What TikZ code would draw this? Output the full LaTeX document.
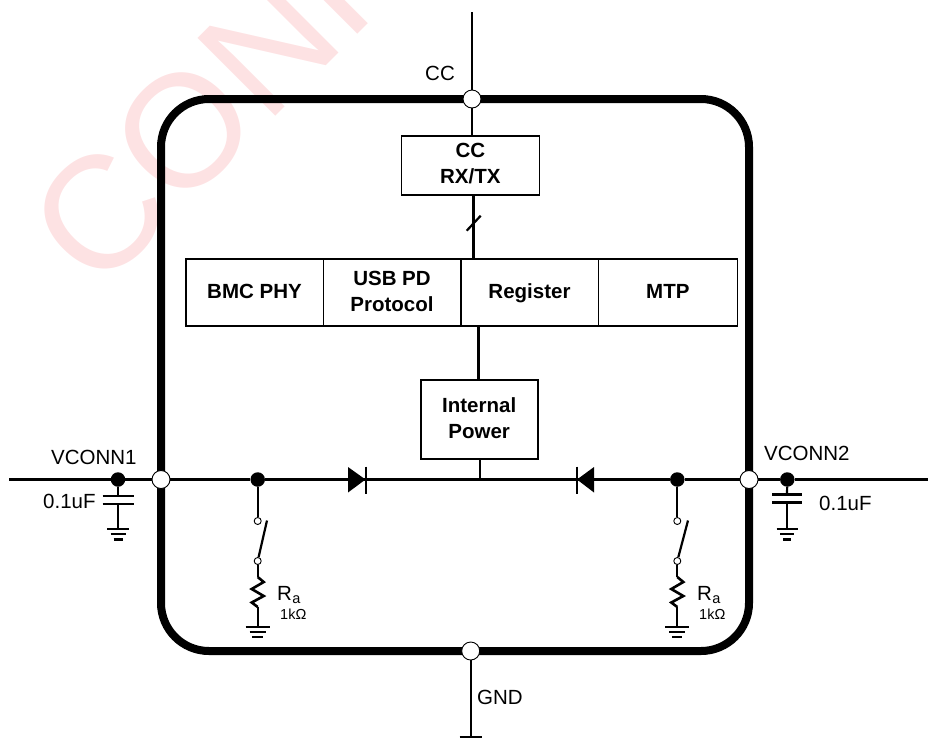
\documentclass[tikz,border=0pt]{standalone}
\usepackage{fontspec}
\setmainfont{Liberation Sans}
\usetikzlibrary{calc}
\definecolor{wm}{RGB}{253,226,227}
\tikzset{
 x=1pt,y=-1pt,
 wire/.style={line width=2.2pt},
 thickwire/.style={line width=3pt},
 chip/.style={line width=8pt},
 port/.style={circle,draw=black,fill=white,line width=0.9pt,minimum size=18pt,inner sep=0pt},
 junc/.style={circle,fill=black,minimum size=14.5pt,inner sep=0pt},
 sw/.style={circle,draw=black,fill=white,line width=0.9pt,minimum size=7pt,inner sep=0pt},
 blockbox/.style={draw=black,fill=white,line width=1.6pt,inner sep=0pt,align=center,font=\fontsize{20.5}{26}\selectfont\bfseries},
 lbl/.style={font=\fontsize{20.5}{24}\selectfont,inner sep=0pt,anchor=base west},
 small/.style={font=\fontsize{14.5}{16}\selectfont,inner sep=0pt,anchor=base west},
}
\newcommand{\bl}[1]{\rule[-7pt]{0pt}{25pt}#1}
% ground symbol: #1 = top centre, #2,#3,#4 half widths
\newcommand{\gndsym}[4]{%
 \draw[wire] ($(#1)+(-#2,0)$) -- ($(#1)+(#2,0)$);
 \draw[wire] ($(#1)+(-#3,5.2)$) -- ($(#1)+(#3,5.2)$);
 \draw[wire] ($(#1)+(-#4,10.4)$) -- ($(#1)+(#4,10.4)$);}
% zigzag resistor: #1 = top end
\newcommand{\zigres}[1]{%
 \draw[wire,line width=2.6pt,line join=miter] (#1) -- ++(6,5) -- ++(-12,7) -- ++(12,7) -- ++(-12,6.5) -- ++(6,4.5);}
\begin{document}
\begin{tikzpicture}
\useasboundingbox (0,0) rectangle (928,740);
% watermark
\node[rotate=45,anchor=base west,inner sep=0pt,text=wm,font=\fontsize{160}{160}\selectfont] (wmark) at (97,295) {CONF};
% chip outline
\draw[chip] (209,99) -- (701,99) arc[start angle=-90,end angle=0,radius=48] -- (749,603) arc[start angle=0,end angle=90,radius=48] -- (209,651) arc[start angle=90,end angle=180,radius=48] -- (161,147) arc[start angle=180,end angle=270,radius=48] -- cycle;
% free ends
\coordinate (ccT) at (472,12);
\coordinate (gB) at (470.7,736.7);
\coordinate (L) at (9,479.5);
\coordinate (R) at (928,479.5);
\coordinate (bus) at (480,479.5);
\coordinate (d1) at (348,479.5);
\coordinate (d2) at (594,479.5);
% ports
\node[port] (pcc) at (472,99) {};
\node[port] (pgnd) at (470.7,651) {};
\node[port] (pv1) at (161,479.5) {};
\node[port] (pv2) at (749,479.5) {};
% blocks
\node[blockbox,minimum width=138pt,minimum height=59.3pt] (ccb) at (470.3,165.4) {\bl{CC}\\\bl{RX/TX}};
\node[blockbox,minimum width=137.6pt,minimum height=67pt] (bmc) at (254.5,292.6) {\bl{BMC PHY}};
\node[blockbox,minimum width=137.2pt,minimum height=67pt] (usb) at (392,292.6) {\bl{USB PD}\\\bl{Protocol}};
\node[blockbox,minimum width=137.6pt,minimum height=67pt] (reg) at (529.5,292.6) {\bl{Register}};
\node[blockbox,minimum width=139pt,minimum height=67pt] (mtp) at (667.8,292.6) {\bl{MTP}};
\node[blockbox,minimum width=117pt,minimum height=79pt] (ipw) at (479.2,419.5) {\bl{Internal}\\\bl{Power}};
% junctions
\node[junc] (j1) at (118,479.5) {};
\node[junc] (j2) at (257.7,479.5) {};
\node[junc] (j3) at (677.3,479.5) {};
\node[junc] (j4) at (787.3,479.5) {};
% switches
\node[sw] (s1a) at (257.7,521) {};
\node[sw] (s1b) at (257.7,561) {};
\node[sw] (s2a) at (677.3,521) {};
\node[sw] (s2b) at (677.3,561) {};
\coordinate (s1e) at (267,520.5);
\coordinate (s2e) at (688,520.5);
\coordinate (r1t) at (257.7,577);
\coordinate (r1b) at (257.7,607);
\coordinate (r2t) at (677.3,577);
\coordinate (r2b) at (677.3,607);
\coordinate (g1) at (257.7,626.7);
\coordinate (g2) at (677.3,626.7);
\coordinate (c1a) at (118,495.7);
\coordinate (c1b) at (118,504);
\coordinate (c1g) at (118,529);
\coordinate (c2a) at (787,494.5);
\coordinate (c2b) at (787,502.5);
\coordinate (c2g) at (787,529);
% connectors
\draw[wire] (ccT) -- (pcc);
\draw[wire] (pcc) -- (pcc |- ccb.north);
\draw[wire] (pgnd) -- (gB);
\draw[wire] ($(gB)+(-11,0)$) -- ($(gB)+(11,0)$);
\draw[wire] (L) -- (j1) -- (pv1) -- (j2) -- (j3) -- (pv2) -- (j4) -- (R);
\draw[thickwire] (473.3,195) coordinate (w1) -- (w1 |- reg.north);
\draw[wire] (466.7,230.7) coordinate (sl) -- (480.7,215.7);
\draw[thickwire] (478,326) coordinate (w2) -- (w2 |- ipw.north);
\draw[wire] (ipw.south -| bus) -- (bus);
% diodes
\fill (d1) ++(0,-12.5) -- ++(17.5,12.5) -- ++(-17.5,13) -- cycle;
\draw[line width=1.5pt] ($(d1)+(18,-13)$) -- ($(d1)+(18,14)$);
\fill (d2) ++(0,-12.5) -- ++(-17,12.5) -- ++(17,13) -- cycle;
\draw[line width=1.5pt] ($(d2)+(-17,-13)$) -- ($(d2)+(-17,14)$);
% branch 1
\draw[wire] (j2) -- (s1a);
\draw[wire] (s1b) -- (s1e);
\draw[wire] (s1b) -- (r1t);
\zigres{r1t}
\draw[wire] (r1b) -- (g1);
\gndsym{g1}{12}{8}{5.5}
% branch 2
\draw[wire] (j3) -- (s2a);
\draw[wire] (s2b) -- (s2e);
\draw[wire] (s2b) -- (r2t);
\zigres{r2t}
\draw[wire] (r2b) -- (g2);
\gndsym{g2}{12}{8}{5}
% caps
\draw[wire] (j1) -- (c1a);
\draw[wire] ($(c1a)+(-15.5,0)$) -- ($(c1a)+(15.5,0)$);
\draw[wire] ($(c1b)+(-15.5,0)$) -- ($(c1b)+(15.5,0)$);
\draw[wire] (c1b) -- (c1g);
\gndsym{c1g}{11}{7.5}{4.5}
\draw[wire] (j4) -- (c2a);
\draw[wire] ($(c2a)+(-15,0)$) -- ($(c2a)+(15,0)$);
\draw[wire] ($(c2b)+(-15,0)$) -- ($(c2b)+(15,0)$);
\draw[wire] (c2b) -- (c2g);
\gndsym{c2g}{10.5}{7}{4}
% labels
\node[lbl] (tcc) at (425,80.7) {CC};
\node[lbl] (tgnd) at (477,704) {GND};
\node[lbl] (tv1) at (51,464.3) {VCONN1};
\node[lbl] (tv2) at (764,460.7) {VCONN2};
\node[lbl] (tc1) at (43,508) {0.1uF};
\node[lbl] (tc2) at (819,510) {0.1uF};
\node[lbl] (tr1) at (277,600.7) {R};
\node[small] (tr1s) at (tr1.base east) [yshift=-3pt] {a};
\node[small] (tk1) at (280,619) {1k\symbol{"03A9}};
\node[lbl] (tr2) at (697,600.7) {R};
\node[small] (tr2s) at (tr2.base east) [yshift=-3pt] {a};
\node[small] (tk2) at (699,619) {1k\symbol{"03A9}};
\end{tikzpicture}
\end{document}
